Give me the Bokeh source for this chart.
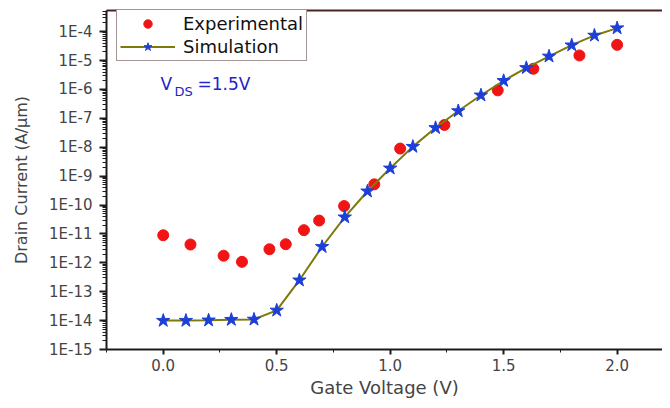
from bokeh.plotting import figure
from bokeh.models import (FixedTicker, CustomJSTickFormatter, PrintfTickFormatter,
                          LinearAxis, Range1d, Label, Legend)
from bokeh.embed import file_html
from bokeh.resources import INLINE

# ---- data ----
exp_v = [0.0, 0.12, 0.266, 0.347, 0.468, 0.54, 0.62, 0.687, 0.797, 0.93, 1.044,
         1.239, 1.474, 1.631, 1.834, 2.0]
exp_i = [9e-12, 4.3e-12, 1.76e-12, 1.08e-12, 2.95e-12, 4.4e-12, 1.35e-11, 2.9e-11,
         9.2e-11, 5.2e-10, 9e-9, 5.9e-8, 9.3e-7, 5.2e-6, 1.5e-5, 3.5e-5]

sim_v = [0.0, 0.1, 0.2, 0.3, 0.4, 0.5, 0.6, 0.7, 0.8, 0.9, 1.0,
         1.1, 1.2, 1.3, 1.4, 1.5, 1.6, 1.7, 1.8, 1.9, 2.0]
sim_i = [1.0e-14, 1.0e-14, 1.03e-14, 1.08e-14, 1.1e-14, 2.26e-14, 2.5e-13, 3.6e-12,
         3.8e-11, 3.0e-10, 1.87e-9, 1.05e-8, 4.7e-8, 1.8e-7, 6.3e-7, 2.0e-6,
         5.6e-6, 1.4e-5, 3.4e-5, 7.4e-5, 1.33e-4]

x_major = [0.0, 0.5, 1.0, 1.5, 2.0]
x_minor = [-0.25, 0.25, 0.75, 1.25, 1.75]
y_decades = list(range(-15, -3))

FONT = "DejaVu Sans"
AXC = "#1e1a1a"

p = figure(width=662, height=400, y_axis_type="log",
           x_range=Range1d(-0.25, 2.2), y_range=Range1d(1e-15, 5.4e-4),
           output_backend="svg", toolbar_location=None,
           min_border_left=106, min_border_right=0, min_border_top=10, min_border_bottom=10)
p.outline_line_color = None
p.grid.visible = False
p.background_fill_color = "white"
p.border_fill_color = "white"

xa = p.below[0]
ya = p.left[0]

# top border line as an unlabeled axis
top = LinearAxis(major_tick_line_color=None, minor_tick_line_color=None,
                 major_tick_out=0, minor_tick_out=0, major_tick_in=0, minor_tick_in=0,
                 major_label_text_font_size="1px", major_label_standoff=0,
                 major_label_text_color=None,
                 formatter=CustomJSTickFormatter(code="return '';"),
                 axis_line_color="#4a2424", axis_line_width=2,
                 ticker=FixedTicker(ticks=[0.0], minor_ticks=[]))
p.add_layout(top, "above")

xa.ticker = FixedTicker(ticks=x_major, minor_ticks=x_minor)
xa.formatter = PrintfTickFormatter(format="%.1f")
xa.axis_label = "Gate Voltage (V)"
xa.axis_label_text_font = FONT
xa.axis_label_text_font_size = "18px"
xa.axis_label_text_font_style = "normal"
xa.axis_label_standoff = 3
xa.major_label_text_font = FONT
xa.major_label_text_font_size = "15px"
xa.major_label_standoff = 4
xa.axis_line_width = 2
xa.axis_line_color = AXC
xa.major_tick_line_color = AXC
xa.minor_tick_line_color = AXC
xa.major_tick_line_width = 2
xa.major_tick_in = 0
xa.major_tick_out = 5
xa.minor_tick_in = 0
xa.minor_tick_out = 3

ya.ticker = FixedTicker(ticks=[10.0 ** d for d in y_decades],
                        minor_ticks=[m * 10.0 ** d for d in y_decades for m in range(2, 10)])
ya.formatter = CustomJSTickFormatter(code="return '1E' + Math.round(Math.log10(tick));")
ya.axis_label = "Drain Current (A/\u03bcm)"
ya.axis_label_text_font = FONT
ya.axis_label_text_font_size = "16px"
ya.axis_label_text_font_style = "normal"
ya.axis_label_standoff = 15
ya.major_label_text_font = FONT
ya.major_label_text_font_size = "15px"
ya.major_label_standoff = 7
ya.axis_line_width = 2
ya.axis_line_color = AXC
ya.major_tick_line_color = AXC
ya.minor_tick_line_color = AXC
ya.major_tick_line_width = 2
ya.major_tick_in = 0
ya.major_tick_out = 7
ya.minor_tick_in = 0
ya.minor_tick_out = 4

r_exp = p.scatter(exp_v, exp_i, marker="circle", size=11,
                  fill_color="#f01414", line_color="#f01414")
r_line = p.line(sim_v, sim_i, line_color="#7d7a0c", line_width=2)
r_star = p.scatter(sim_v, sim_i, marker="star", size=14,
                   fill_color="#1c3fd8", line_color="#1c3fd8")

legend = Legend(items=[("Experimental", [r_exp]), ("Simulation", [r_line, r_star])],
                location=(10, 288), orientation="vertical",
                label_text_font=FONT, label_text_font_size="18px",
                label_text_color="#111111",
                glyph_width=55, glyph_height=21, label_height=21, label_standoff=8,
                spacing=2, padding=3, margin=0,
                border_line_color="#4a2a2a", border_line_width=1,
                background_fill_alpha=1.0)
p.add_layout(legend, "center")

# V_DS = 1.5V annotation
vx, vy = -0.012, 6.8e-7
p.add_layout(Label(x=vx, y=vy, text="V", text_font=FONT, text_font_size="17px",
                   text_color="#2323c8"))
p.add_layout(Label(x=vx, y=vy, text="DS", x_offset=14, y_offset=-5, text_font=FONT,
                   text_font_size="13px", text_color="#2323c8"))
p.add_layout(Label(x=vx, y=vy, text="=1.5V", x_offset=37, text_font=FONT,
                   text_font_size="17px", text_color="#2323c8"))

open("out.html", "w").write(file_html(p, INLINE))
